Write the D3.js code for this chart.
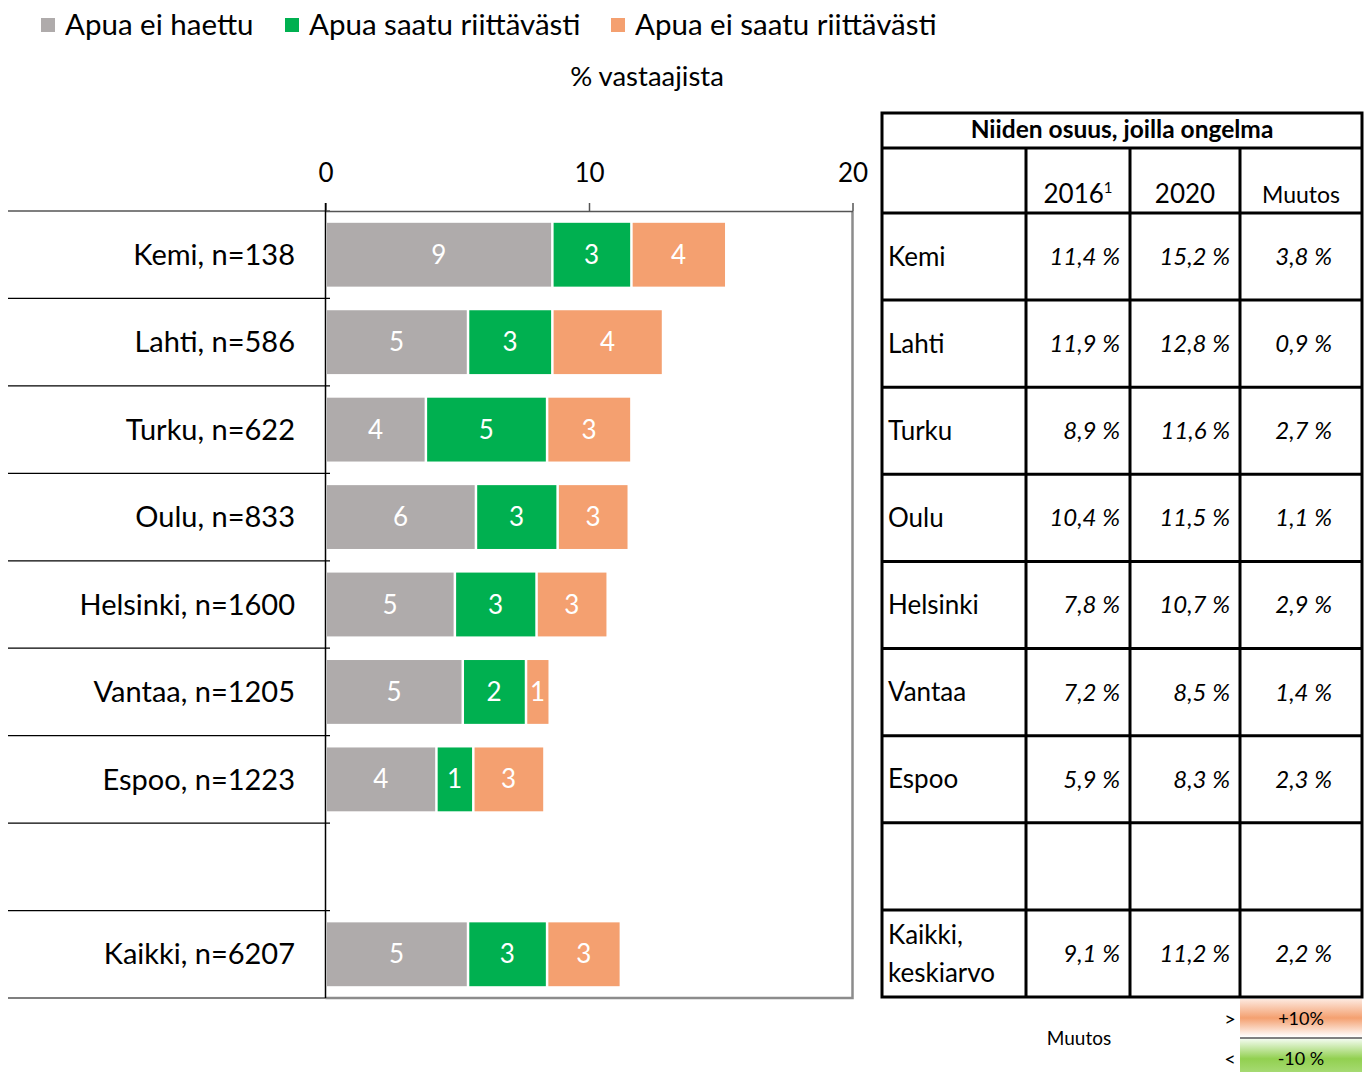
<!DOCTYPE html>
<html>
<head>
<meta charset="utf-8">
<script src="https://cdn.jsdelivr.net/npm/d3@7"></script>
<style>
  body { margin: 0; background: #fff; }
  svg { display: block; font-family: Lato, "Open Sans", sans-serif; }
</style>
</head>
<body>
<div id="chart"></div>
<script>
(function () {
    const width = 1368;
    const height = 1072;

    // Data
    const rowIds = ["kemi", "lahti", "turku", "oulu", "helsinki", "vantaa", "espoo", "gap", "kaikki"];
    const rowLabels = ["Kemi, n=138", "Lahti, n=586", "Turku, n=622", "Oulu, n=833", "Helsinki, n=1600",
        "Vantaa, n=1205", "Espoo, n=1223", "", "Kaikki, n=6207"];
    const seriesNames = ["Apua ei haettu", "Apua saatu riittävästi", "Apua ei saatu riittävästi"];
    const seriesColors = ["#AFABAB", "#00B050", "#F4A070"];
    const notSought = [8.6, 5.4, 3.8, 5.7, 4.9, 5.2, 4.2, null, 5.4];
    const helpEnough = [3.0, 3.2, 4.6, 3.1, 3.1, 2.4, 1.4, null, 3.0];
    const helpNotEnough = [3.6, 4.2, 3.2, 2.7, 2.7, 0.9, 2.7, null, 2.8];
    const xTicks = [0, 10, 20];

    const tableNames = ["Kemi", "Lahti", "Turku", "Oulu", "Helsinki", "Vantaa", "Espoo", "", "Kaikki,|keskiarvo"];
    const share2016 = [11.4, 11.9, 8.9, 10.4, 7.8, 7.2, 5.9, null, 9.1];
    const share2020 = [15.2, 12.8, 11.6, 11.5, 10.7, 8.5, 8.3, null, 11.2];
    const change = [3.8, 0.9, 2.7, 1.1, 2.9, 1.4, 2.3, null, 2.2];

    const rows = rowIds.map((id, i) => ({
        id, label: rowLabels[i], values: [notSought[i], helpEnough[i], helpNotEnough[i]]
    }));

    const svg = d3.select("#chart").append("svg")
        .attr("width", width)
        .attr("height", height);

    // Legend
    const legendX = [41, 285, 611];
    const legend = svg.append("g").selectAll("g")
        .data(seriesNames)
        .join("g")
        .attr("transform", (d, i) => `translate(${legendX[i]},0)`);
    legend.append("rect")
        .attr("x", 0).attr("y", 18).attr("width", 14).attr("height", 14)
        .attr("fill", (d, i) => seriesColors[i]);
    legend.append("text")
        .attr("x", 24).attr("y", 35)
        .style("font-size", "29.5px")
        .attr("fill", "#000")
        .text(d => d);

    svg.append("text")
        .attr("x", 647).attr("y", 86)
        .attr("text-anchor", "middle")
        .style("font-size", "27.5px")
        .text("% vastaajista");

    // Scales
    const x = d3.scaleLinear().domain([0, 20]).range([325.5, 852.5]);
    const y = d3.scaleBand().domain(rowIds).range([211, 998]).paddingInner(0.27).paddingOuter(0.135);
    const yRow = d3.scaleBand().domain(rowIds).range([211, 998]);

    // Category separator lines on the left
    const sepY = rowIds.map(id => yRow(id)).concat([998]);
    svg.append("g").selectAll("line")
        .data(sepY)
        .join("line")
        .attr("x1", 8).attr("x2", 330)
        .attr("y1", d => d).attr("y2", d => d)
        .attr("stroke", "#000").attr("stroke-width", 1.2);

    // Plot frame (right and bottom)
    svg.append("path")
        .attr("d", `M${x(0)},998H${x(20)}V211`)
        .attr("fill", "none")
        .attr("stroke", "#8c8c8c")
        .attr("stroke-width", 2.5);

    // Top axis
    const xAxis = svg.append("g")
        .attr("transform", "translate(0,211)")
        .call(d3.axisTop(x).tickValues(xTicks).tickSize(8).tickSizeOuter(0).tickFormat(d3.format("d")));
    xAxis.select(".domain").attr("stroke", "#555").attr("stroke-width", 1.5);
    xAxis.selectAll(".tick line").attr("stroke", "#555").attr("stroke-width", 1.5);
    xAxis.selectAll(".tick text")
        .attr("y", -29)
        .style("font-size", "26px")
        .style("font-family", "Lato, sans-serif")
        .attr("fill", "#000");

    // Left axis
    svg.append("line")
        .attr("x1", x(0)).attr("x2", x(0))
        .attr("y1", 203).attr("y2", 998)
        .attr("stroke", "#000").attr("stroke-width", 1.5);

    // Row labels
    svg.append("g").selectAll("text")
        .data(rows)
        .join("text")
        .attr("x", 295)
        .attr("y", d => yRow(d.id) + yRow.bandwidth() / 2)
        .attr("dy", "0.35em")
        .attr("text-anchor", "end")
        .style("font-size", "29px")
        .text(d => d.label);

    // Stacked bars
    const segs = [];
    rows.forEach(r => {
        if (r.values[0] == null) return;
        let acc = 0;
        r.values.forEach((v, k) => {
            segs.push({ id: r.id, k, x0: acc, x1: acc + v, v });
            acc += v;
        });
    });

    const bars = svg.append("g");
    bars.selectAll("rect")
        .data(segs)
        .join("rect")
        .attr("x", d => x(d.x0) + 1.5)
        .attr("y", d => y(d.id))
        .attr("width", d => x(d.x1) - x(d.x0) - 2.5)
        .attr("height", y.bandwidth())
        .attr("fill", d => seriesColors[d.k]);

    bars.selectAll("text")
        .data(segs)
        .join("text")
        .attr("x", d => (x(d.x0) + x(d.x1)) / 2)
        .attr("y", d => y(d.id) + y.bandwidth() / 2)
        .attr("dy", "0.35em")
        .attr("text-anchor", "middle")
        .attr("fill", "#fff")
        .style("font-size", "26px")
        .text(d => Math.round(d.v));

    // Table
    const tL = 882, tR = 1362, tTop = 113, tTitle = 148, tHead = 213, tBottom = 997;
    const colX = [tL, 1026, 1130, 1240, tR];
    const tY = d3.scaleBand().domain(rowIds).range([tHead, tBottom]);
    const fmt = v => d3.format(".1f")(v).replace(".", ",") + " %";

    const table = svg.append("g");
    table.append("text")
        .attr("x", (tL + tR) / 2).attr("y", 129)
        .attr("dy", "0.35em")
        .attr("text-anchor", "middle")
        .style("font-size", "24.5px")
        .style("font-weight", "bold")
        .text("Niiden osuus, joilla ongelma");

    const heads = [
        { t: "2016", sup: "1", c: 1 },
        { t: "2020", c: 2 },
        { t: "Muutos", c: 3, size: 23 }
    ];
    heads.forEach(h => {
        const tx = table.append("text")
            .attr("x", (colX[h.c] + colX[h.c + 1]) / 2)
            .attr("y", 203)
            .attr("text-anchor", "middle")
            .style("font-size", (h.size || 26) + "px")
            .text(h.t);
        if (h.sup) tx.append("tspan").attr("dy", -10).style("font-size", "15px").text(h.sup);
    });

    const tableRows = rowIds.map((id, i) => ({
        id, name: tableNames[i], vals: [share2016[i], share2020[i], change[i]]
    }));

    tableRows.forEach(r => {
        const cy = tY(r.id) + tY.bandwidth() / 2;
        const parts = r.name.split("|");
        parts.forEach((p, j) => {
            table.append("text")
                .attr("x", 888)
                .attr("y", cy + (j - (parts.length - 1) / 2) * 38)
                .attr("dy", "0.35em")
                .style("font-size", "26px")
                .text(p);
        });
        if (r.vals[0] == null) return;
        const rightX = [1120, 1230, 1332];
        r.vals.forEach((v, k) => {
            table.append("text")
                .attr("x", rightX[k])
                .attr("y", cy)
                .attr("dy", "0.35em")
                .attr("text-anchor", "end")
                .style("font-size", "24px")
                .style("font-style", "italic")
                .text(fmt(v));
        });
    });

    // Table grid
    const hLines = [tTitle, tHead].concat(rowIds.slice(1).map(id => tY(id)));
    table.append("g").selectAll("line")
        .data(hLines)
        .join("line")
        .attr("x1", tL).attr("x2", tR)
        .attr("y1", d => d).attr("y2", d => d)
        .attr("stroke", "#000").attr("stroke-width", 3);
    table.append("g").selectAll("line")
        .data(colX.slice(1, 4))
        .join("line")
        .attr("x1", d => d).attr("x2", d => d)
        .attr("y1", tTitle).attr("y2", tBottom)
        .attr("stroke", "#000").attr("stroke-width", 3);
    table.append("rect")
        .attr("x", tL).attr("y", tTop)
        .attr("width", tR - tL).attr("height", tBottom - tTop)
        .attr("fill", "none")
        .attr("stroke", "#000").attr("stroke-width", 3);

    // Change colour key
    const defs = svg.append("defs");
    const gOr = defs.append("linearGradient").attr("id", "gOr").attr("x1", 0).attr("x2", 0).attr("y1", 0).attr("y2", 1);
    gOr.append("stop").attr("offset", "0%").attr("stop-color", "#fde9df");
    gOr.append("stop").attr("offset", "50%").attr("stop-color", "#F4A070");
    gOr.append("stop").attr("offset", "100%").attr("stop-color", "#ffffff");
    const gGr = defs.append("linearGradient").attr("id", "gGr").attr("x1", 0).attr("x2", 0).attr("y1", 0).attr("y2", 1);
    gGr.append("stop").attr("offset", "0%").attr("stop-color", "#f2fbee");
    gGr.append("stop").attr("offset", "60%").attr("stop-color", "#92D050");
    gGr.append("stop").attr("offset", "100%").attr("stop-color", "#a6da72");

    const key = svg.append("g");
    key.append("rect").attr("x", 1240).attr("y", 999).attr("width", 122).attr("height", 38).attr("fill", "url(#gOr)");
    key.append("rect").attr("x", 1240).attr("y", 1039).attr("width", 122).attr("height", 33).attr("fill", "url(#gGr)");
    key.append("line").attr("x1", 1240).attr("x2", 1362).attr("y1", 1038).attr("y2", 1038).attr("stroke", "#000").attr("stroke-width", 1);
    key.append("text").attr("x", 1301).attr("y", 1019).attr("dy", "0.35em").attr("text-anchor", "middle").style("font-size", "18px").text("+10%");
    key.append("text").attr("x", 1301).attr("y", 1059).attr("dy", "0.35em").attr("text-anchor", "middle").style("font-size", "18px").text("-10 %");
    key.append("text").attr("x", 1230).attr("y", 1019).attr("dy", "0.35em").attr("text-anchor", "middle").style("font-size", "20px").text(">");
    key.append("text").attr("x", 1230).attr("y", 1059).attr("dy", "0.35em").attr("text-anchor", "middle").style("font-size", "20px").text("<");
    key.append("text").attr("x", 1079).attr("y", 1038).attr("dy", "0.35em").attr("text-anchor", "middle").style("font-size", "19px").text("Muutos");
})();
</script>
</body>
</html>
